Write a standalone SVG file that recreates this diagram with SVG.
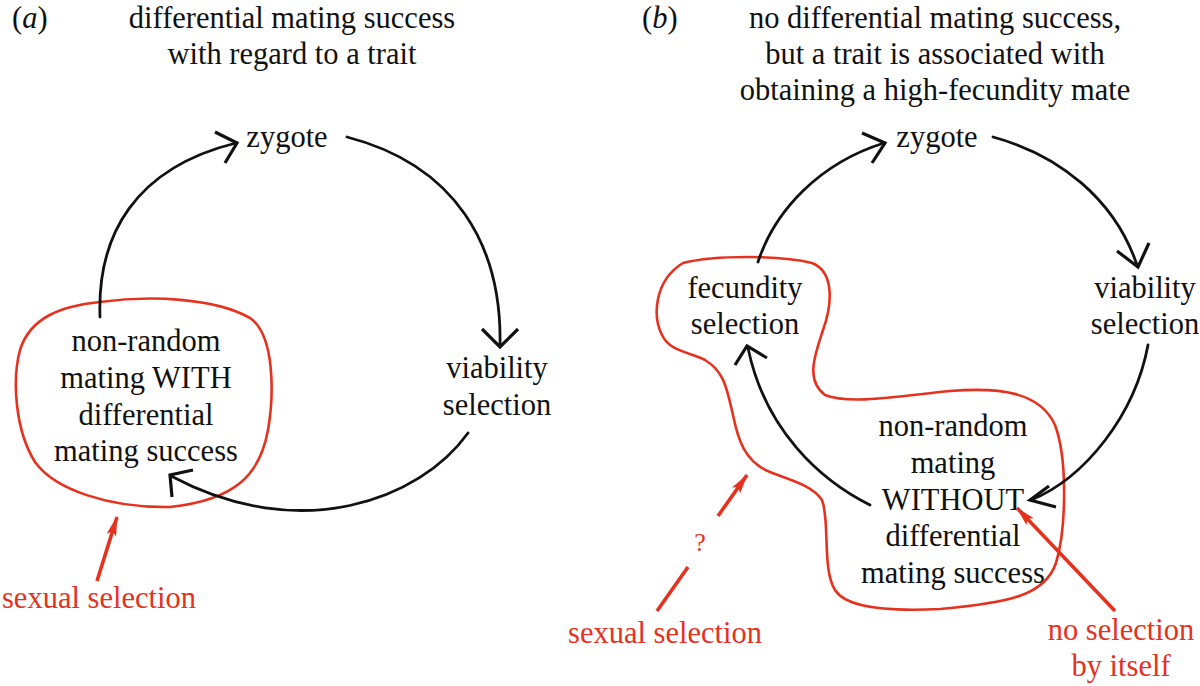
<svg xmlns="http://www.w3.org/2000/svg" width="1200" height="686" viewBox="0 0 1200 686">
<defs>
<style>
text{font-family:"Liberation Serif","Times New Roman",serif;font-size:30.5px;fill:#111;text-anchor:middle}
.red{fill:#e5321f}
.lbl{text-anchor:start}
.arc{fill:none;stroke:#111;stroke-width:2.8;stroke-linecap:round}
.head{fill:none;stroke:#111;stroke-width:3.2;stroke-linecap:butt;stroke-linejoin:miter}
.blob{fill:none;stroke:#e5321f;stroke-width:2.6}
.rarrow{fill:none;stroke:#e5321f;stroke-width:3.6}
</style>
<marker id="rh" viewBox="0 0 20 10" refX="19" refY="5" markerWidth="20" markerHeight="10" markerUnits="userSpaceOnUse" orient="auto">
<path d="M0,0 L20,5 L0,10 L4,5 Z" fill="#e5321f"/>
</marker>
</defs>
<rect width="1200" height="686" fill="#fff"/>

<g id="panel-a-labels">
<text class="lbl" x="12" y="28">(<tspan font-style="italic">a</tspan>)</text>
<text x="292" y="28">differential mating success</text>
<text x="292" y="64">with regard to a trait</text>
</g>
<g id="a-zygote"><text x="287" y="147">zygote</text></g>
<g id="a-viability"><text x="497" y="378">viability</text><text x="497" y="415">selection</text></g>
<g id="a-mating">
<path class="blob" d="M100,302 C150,295 215,298 250,318 C275,335 274,395 268,430 C260,475 235,500 170,507 C110,508 55,490 35,462 C15,430 12,380 20,350 C30,318 60,306 100,302 Z"/>
<text x="146" y="351">non-random</text>
<text x="146" y="388">mating WITH</text>
<text x="146" y="425">differential</text>
<text x="146" y="461">mating success</text>
</g>
<g id="a-sexual"><text class="red lbl" x="2" y="608">sexual selection</text></g>

<g id="panel-b-labels">
<text class="lbl" x="642" y="28">(<tspan font-style="italic">b</tspan>)</text>
<text x="935" y="28">no differential mating success,</text>
<text x="935" y="64">but a trait is associated with</text>
<text x="935" y="100">obtaining a high-fecundity mate</text>
</g>
<g id="b-zygote"><text x="937" y="147">zygote</text></g>
<g id="b-viability"><text x="1145" y="298">viability</text><text x="1145" y="334">selection</text></g>
<g id="b-fecundity"><text x="745" y="298">fecundity</text><text x="745" y="334">selection</text></g>
<g id="b-mating">
<text x="953" y="436">non-random</text>
<text x="953" y="473">mating</text>
<text x="953" y="510">WITHOUT</text>
<text x="953" y="546">differential</text>
<text x="953" y="583">mating success</text>
</g>
<g id="b-region">
<path class="blob" d="M683,263 C715,255 780,255 812,263 C835,272 832,305 823,330 C815,355 805,380 825,395 C850,405 900,396 950,391 C1000,387 1040,392 1055,425 C1068,460 1066,530 1056,563 C1045,595 1010,603 940,609 C880,612 845,606 835,590 C822,570 830,520 822,500 C812,485 790,480 770,472 C745,462 738,440 733,415 C727,390 725,372 705,360 C690,352 670,352 662,335 C652,315 655,280 683,263 Z"/>
</g>
<g id="b-question"><text class="red" x="700" y="551" style="font-size:26px">?</text></g>
<g id="b-sexual"><text class="red" x="665" y="643">sexual selection</text></g>
<g id="b-noselection"><text class="red" x="1121" y="640">no selection</text><text class="red" x="1121" y="676">by itself</text></g>

<g id="connectors">
<path class="arc" d="M100,317 C97,235 135,168 236,143"/>
<path class="head" d="M215,132 L237,143 L225,163"/>
<path class="arc" d="M347,137 C455,165 502,245 500,345"/>
<path class="head" d="M482,329 L500,347 L518,329"/>
<path class="arc" d="M468,433 C420,500 300,545 171,476"/>
<path class="head" d="M193,470 L170,475 L172,497"/>
<path class="rarrow" d="M97,581 L117,517" marker-end="url(#rh)"/>

<path class="arc" d="M758,262 C775,210 820,163 884,143"/>
<path class="head" d="M862,133 L885,143 L872,163"/>
<path class="arc" d="M993,137 C1060,155 1115,200 1137,265"/>
<path class="head" d="M1117,251 L1138,267 L1149,243"/>
<path class="arc" d="M1148,345 C1135,415 1085,478 1031,500"/>
<path class="head" d="M1049,486 L1030,500 L1056,507"/>
<path class="arc" d="M870,505 C820,480 765,430 748,348"/>
<path class="head" d="M735,365 L747,346 L767,358"/>
<path class="rarrow" d="M657,611 L688,567"/>
<path class="rarrow" d="M718,516 L747,475" marker-end="url(#rh)"/>
<path class="rarrow" d="M1115,611 L1017,508" marker-end="url(#rh)"/>
</g>
</svg>
